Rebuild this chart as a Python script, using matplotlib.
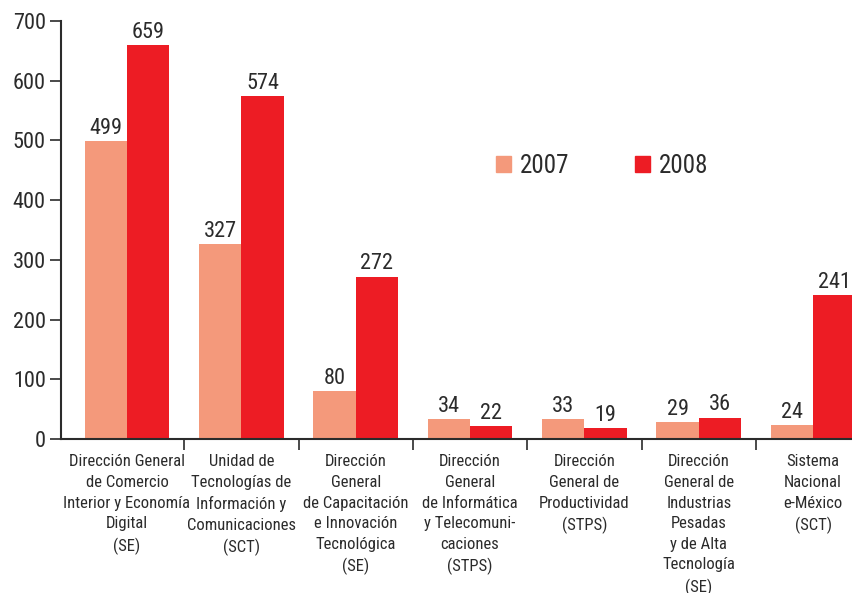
import matplotlib
matplotlib.use("Agg")
import matplotlib.pyplot as plt
import numpy as np
from matplotlib.patches import Patch

plt.rcParams['font.family'] = ['Roboto Condensed', 'Archivo Narrow', 'DejaVu Sans']

categories = [
    "Dirección General\nde Comercio\nInterior y Economía\nDigital\n(SE)",
    "Unidad de\nTecnologías de\nInformación y\nComunicaciones\n(SCT)",
    "Dirección\nGeneral\nde Capacitación\ne Innovación\nTecnológica\n(SE)",
    "Dirección\nGeneral\nde Informática\ny Telecomuni-\ncaciones\n(STPS)",
    "Dirección\nGeneral de\nProductividad\n(STPS)",
    "Dirección\nGeneral de\nIndustrias\nPesadas\ny de Alta\nTecnología\n(SE)",
    "Sistema\nNacional\ne-México\n(SCT)",
]
values_2007 = [499, 327, 80, 34, 33, 29, 24]
values_2008 = [659, 574, 272, 22, 19, 36, 241]
series_labels = ["2007", "2008"]
y_ticks = [0, 100, 200, 300, 400, 500, 600, 700]

c07 = "#F4997B"
c08 = "#ED1C24"
txt = "#2b2b2b"

fig = plt.figure(figsize=(8.52, 5.93), dpi=100)
ax = fig.add_axes([61/852, 154/593, 791/852, 418/593])

x = np.arange(len(categories))
w = 0.37
b1 = ax.bar(x - w/2, values_2007, width=w, color=c07)
b2 = ax.bar(x + w/2, values_2008, width=w, color=c08)

for bars, vals in ((b1, values_2007), (b2, values_2008)):
    for r, v in zip(bars, vals):
        ax.annotate(str(v), (r.get_x() + r.get_width()/2, r.get_height()),
                    xytext=(0, 1.5), textcoords="offset points",
                    ha="center", va="bottom", fontsize=16, color=txt)

ax.set_xlim(-0.577, 6.34)
ax.set_ylim(0, 700)
ax.set_yticks(y_ticks)
ax.set_yticklabels([str(t) for t in y_ticks], fontsize=16, color=txt)
ax.set_xticks(x)
ax.set_xticklabels(categories, fontsize=12, color=txt, linespacing=1.47, va="top")
ax.set_xticks(x[:-1] + 0.5, minor=True)
ax.tick_params(axis="x", which="major", length=0, pad=11)
ax.tick_params(axis="x", which="minor", length=8, width=1.2, color=txt, direction="out")
ax.tick_params(axis="y", length=8, width=1.2, color=txt, pad=3)

for s in ("top", "right"):
    ax.spines[s].set_visible(False)
for s in ("left", "bottom"):
    ax.spines[s].set_color(txt)
    ax.spines[s].set_linewidth(1.5)

handles = [Patch(color=c07), Patch(color=c08)]
ax.legend(handles, series_labels, loc="center", bbox_to_anchor=(602/852, (593-166)/593),
          bbox_transform=fig.transFigure, ncol=2, frameon=False, fontsize=18,
          handlelength=0.6, handleheight=0.6, handletextpad=0.36, columnspacing=2.64,
          labelcolor=txt, borderpad=0, borderaxespad=0)

fig.savefig("out.png", dpi=100)
